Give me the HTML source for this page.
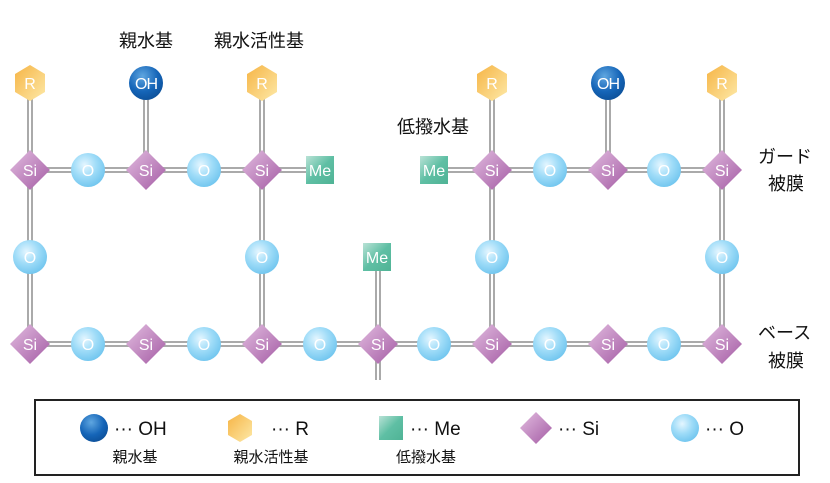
<!DOCTYPE html>
<html><head><meta charset="utf-8"><style>
body{margin:0;background:#fff;}
svg{display:block;font-family:"Liberation Sans","Noto Sans CJK JP",sans-serif;}
</style></head><body>
<svg width="830" height="483" viewBox="0 0 830 483" xmlns="http://www.w3.org/2000/svg">
<defs>
<radialGradient id="gO" cx="0.4" cy="0.35" r="0.7"><stop offset="0" stop-color="#e4f6ff"/><stop offset="0.5" stop-color="#9fdcf8"/><stop offset="1" stop-color="#6ec4ee"/></radialGradient>
<radialGradient id="gOH" cx="0.4" cy="0.3" r="0.75"><stop offset="0" stop-color="#5fa6e0"/><stop offset="0.6" stop-color="#1565b8"/><stop offset="1" stop-color="#0c4f98"/></radialGradient>
<linearGradient id="gSi" x1="0" y1="0" x2="1" y2="1"><stop offset="0" stop-color="#e2bde0"/><stop offset="1" stop-color="#a45ba4"/></linearGradient>
<linearGradient id="gR" x1="0" y1="0" x2="1" y2="1"><stop offset="0" stop-color="#f6b445"/><stop offset="1" stop-color="#fde9a8"/></linearGradient>
<linearGradient id="gMe" x1="0" y1="0" x2="1" y2="1"><stop offset="0" stop-color="#b9e2d6"/><stop offset="0.5" stop-color="#5fbfa4"/><stop offset="1" stop-color="#4fb395"/></linearGradient>
</defs>
<g stroke="#aaa" stroke-width="6" fill="none">
<path d="M30 83V344M262 83V344M492 83V344M722 83V344M146 83V170M608 83V170M378 257V380M30 170H320M434 170H722M30 344H722"/>
</g>
<g stroke="#fff" stroke-width="2" fill="none">
<path d="M30 83V344M262 83V344M492 83V344M722 83V344M146 83V170M608 83V170M378 257V380M30 170H320M434 170H722M30 344H722"/>
</g>
<g font-size="16" fill="#fff" text-anchor="middle">
<!-- R hexagons -->
<g id="hx"></g>
<polygon points="30,65 45,74 45,92 30,101 15,92 15,74" fill="url(#gR)"/><text x="30" y="89">R</text>
<polygon points="262,65 277,74 277,92 262,101 247,92 247,74" fill="url(#gR)"/><text x="262" y="89">R</text>
<polygon points="492,65 507,74 507,92 492,101 477,92 477,74" fill="url(#gR)"/><text x="492" y="89">R</text>
<polygon points="722,65 737,74 737,92 722,101 707,92 707,74" fill="url(#gR)"/><text x="722" y="89">R</text>
<circle cx="146" cy="83" r="17" fill="url(#gOH)"/><text x="146" y="89" letter-spacing="-1">OH</text>
<circle cx="608" cy="83" r="17" fill="url(#gOH)"/><text x="608" y="89" letter-spacing="-1">OH</text>
<!-- Me -->
<rect x="306" y="156" width="28" height="28" fill="url(#gMe)"/><text x="320" y="176">Me</text>
<rect x="420" y="156" width="28" height="28" fill="url(#gMe)"/><text x="434" y="176">Me</text>
<rect x="363" y="243" width="28" height="28" fill="url(#gMe)"/><text x="377" y="263">Me</text>
<!-- Si -->
<g fill="url(#gSi)">
<polygon points="30,150 50,170 30,190 10,170"/><polygon points="146,150 166,170 146,190 126,170"/><polygon points="262,150 282,170 262,190 242,170"/>
<polygon points="492,150 512,170 492,190 472,170"/><polygon points="608,150 628,170 608,190 588,170"/><polygon points="722,150 742,170 722,190 702,170"/>
<polygon points="30,324 50,344 30,364 10,344"/><polygon points="146,324 166,344 146,364 126,344"/><polygon points="262,324 282,344 262,364 242,344"/><polygon points="378,324 398,344 378,364 358,344"/><polygon points="492,324 512,344 492,364 472,344"/><polygon points="608,324 628,344 608,364 588,344"/><polygon points="722,324 742,344 722,364 702,344"/>
</g>
<text x="30" y="176">Si</text><text x="146" y="176">Si</text><text x="262" y="176">Si</text><text x="492" y="176">Si</text><text x="608" y="176">Si</text><text x="722" y="176">Si</text>
<text x="30" y="350">Si</text><text x="146" y="350">Si</text><text x="262" y="350">Si</text><text x="378" y="350">Si</text><text x="492" y="350">Si</text><text x="608" y="350">Si</text><text x="722" y="350">Si</text>
<!-- O -->
<g fill="url(#gO)">
<circle cx="88" cy="170" r="17"/><circle cx="204" cy="170" r="17"/><circle cx="550" cy="170" r="17"/><circle cx="664" cy="170" r="17"/>
<circle cx="30" cy="257" r="17"/><circle cx="262" cy="257" r="17"/><circle cx="492" cy="257" r="17"/><circle cx="722" cy="257" r="17"/>
<circle cx="88" cy="344" r="17"/><circle cx="204" cy="344" r="17"/><circle cx="320" cy="344" r="17"/><circle cx="434" cy="344" r="17"/><circle cx="550" cy="344" r="17"/><circle cx="664" cy="344" r="17"/>
</g>
<text x="88" y="176">O</text><text x="204" y="176">O</text><text x="550" y="176">O</text><text x="664" y="176">O</text>
<text x="30" y="263">O</text><text x="262" y="263">O</text><text x="492" y="263">O</text><text x="722" y="263">O</text>
<text x="88" y="350">O</text><text x="204" y="350">O</text><text x="320" y="350">O</text><text x="434" y="350">O</text><text x="550" y="350">O</text><text x="664" y="350">O</text>
</g>
<g font-size="18" fill="#111">
<text x="146" y="47" text-anchor="middle">親水基</text>
<text x="259" y="47" text-anchor="middle">親水活性基</text>
<text x="433" y="133" text-anchor="middle">低撥水基</text>
<text x="758" y="163">ガード</text>
<text x="768" y="190">被膜</text>
<text x="758" y="339">ベース</text>
<text x="768" y="367">被膜</text>
</g>
<rect x="35" y="400" width="764" height="75" fill="none" stroke="#222" stroke-width="2"/>
<circle cx="94" cy="428" r="14" fill="url(#gOH)"/>
<polygon points="240,414 252,421 252,435 240,442 228,435 228,421" fill="url(#gR)"/>
<rect x="379" y="416" width="24" height="24" fill="url(#gMe)"/>
<polygon points="536,412 552,428 536,444 520,428" fill="url(#gSi)"/>
<circle cx="685" cy="428" r="14" fill="url(#gO)"/>
<g font-size="19" fill="#111">
<text x="114" y="435">··· OH</text>
<text x="271" y="435">··· R</text>
<text x="410" y="435">··· Me</text>
<text x="558" y="435">··· Si</text>
<text x="705" y="435">··· O</text>
</g>
<g font-size="15" fill="#111" text-anchor="middle">
<text x="135" y="462">親水基</text>
<text x="271" y="462">親水活性基</text>
<text x="426" y="462">低撥水基</text>
</g>
</svg>
</body></html>
